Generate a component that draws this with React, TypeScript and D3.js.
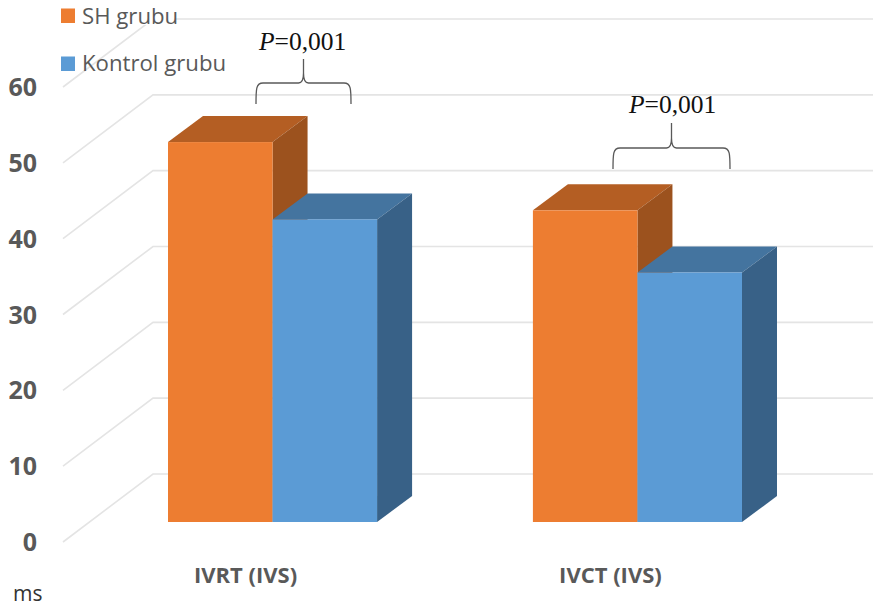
import React from "react";
import * as d3 from "d3";

const categories = ["IVRT (IVS)", "IVCT (IVS)"];
const seriesNames = ["SH grubu", "Kontrol grubu"];
const shValues = [50.1, 41.1];
const controlValues = [39.9, 32.9];
const yTicks = [0, 10, 20, 30, 40, 50, 60];
const pLabels = ["=0,001", "=0,001"];

const WIDTH = 873;
const HEIGHT = 612;
const SANS = "'Open Sans', sans-serif";

const palette = [
  { front: "#ED7D31", top: "#B45E23", side: "#9C521E" },
  { front: "#5B9BD5", top: "#44749F", side: "#386187" },
];

// Back wall of the 3D plot box; the floor recedes from the front edge to it.
const wallY = d3.scaleLinear().domain([0, 60]).range([474, 19]);
const frontEdge = { dx: -90, dy: 68 };
const barFrontShift = 48;
const barDepth = { dx: 35, dy: -26 };
const wallLeft = 153;

const x0 = d3.scaleBand<string>().domain(categories).range([168, 742]).paddingInner(0.427).paddingOuter(0);
const x1 = d3.scaleBand<string>().domain(seriesNames).range([0, x0.bandwidth()]);

function poly(points: [number, number][]) {
  return d3.line()(points) + "Z";
}

function Bar({ x, w, value, colors }: { x: number; w: number; value: number; colors: typeof palette[number] }) {
  const top = wallY(value) + barFrontShift;
  const base = wallY(0) + barFrontShift;
  const { dx, dy } = barDepth;
  return (
    <g>
      <path fill={colors.top} d={poly([[x, top], [x + w, top], [x + w + dx, top + dy], [x + dx, top + dy]])} />
      <path fill={colors.side} d={poly([[x + w, top], [x + w + dx, top + dy], [x + w + dx, base + dy], [x + w, base]])} />
      <rect x={x} y={top} width={w} height={base - top} fill={colors.front} />
    </g>
  );
}

// Curly brace opening downward, with a stem rising from its centre.
function Brace({ left, right, top, bottom, tip }: { left: number; right: number; top: number; bottom: number; tip: number }) {
  const mid = (left + right) / 2;
  const d = `M${left},${bottom} C${left},${top + 6} ${left},${top} ${left + 7},${top}
    L${mid - 5},${top} C${mid - 1},${top} ${mid},${top - 5} ${mid},${top - 10} L${mid},${tip}
    M${mid},${top - 10} C${mid},${top - 5} ${mid + 1},${top} ${mid + 5},${top}
    L${right - 7},${top} C${right},${top} ${right},${top + 6} ${right},${bottom}`;
  return <path d={d} fill="none" stroke="#595959" strokeWidth={1.3} />;
}

const braces = [
  { left: 256, right: 351, top: 83, bottom: 104, tip: 59, textX: 259, textY: 50 },
  { left: 613, right: 730, top: 148, bottom: 169, tip: 123, textX: 629, textY: 113 },
];

export default function App() {
  return (
    <svg
      width={WIDTH}
      height={HEIGHT}
      viewBox={`0 0 ${WIDTH} ${HEIGHT}`}
      style={{ position: "absolute", left: 0, top: 0, background: "#fff" }}
    >
      {/* gridlines: receding floor segment plus the run along the back wall */}
      <g fill="none" stroke="#E4E4E4" strokeWidth={1.6}>
        {yTicks.map((t) => (
          <path
            key={t}
            d={d3.line()([
              [wallLeft + frontEdge.dx, wallY(t) + frontEdge.dy],
              [wallLeft, wallY(t)],
              [WIDTH, wallY(t)],
            ]) as string}
          />
        ))}
      </g>

      {/* white patch behind the first legend entry, which sits on the top gridline */}
      <rect x={78} y={0} width={98} height={25} fill="#fff" />

      {yTicks.map((t) => (
        <text
          key={t}
          x={37}
          y={wallY(t) + frontEdge.dy + 9}
          textAnchor="end"
          fontFamily={SANS}
          fontWeight={700}
          fontSize={25}
          fill="#595959"
        >
          {t}
        </text>
      ))}

      {categories.map((c, i) => {
        const bx = x0(c) as number;
        const w = x1.bandwidth();
        return (
          <g key={c}>
            <Bar x={bx + (x1(seriesNames[0]) as number)} w={w} value={shValues[i]} colors={palette[0]} />
            <Bar x={bx + (x1(seriesNames[1]) as number)} w={w} value={controlValues[i]} colors={palette[1]} />
            <text
              x={bx + x0.bandwidth() / 2 - 27}
              y={583}
              textAnchor="middle"
              fontFamily={SANS}
              fontWeight={700}
              fontSize={22}
              fill="#595959"
            >
              {c}
            </text>
          </g>
        );
      })}

      {seriesNames.map((name, i) => (
        <g key={name}>
          <rect x={61} y={8.5 + i * 48} width={14} height={14.5} fill={palette[i].front} />
          <text x={82} y={23.5 + i * 47} fontFamily={SANS} fontSize={22.2} fill="#595959">
            {name}
          </text>
        </g>
      ))}

      {braces.map((b, i) => (
        <g key={i}>
          <Brace left={b.left} right={b.right} top={b.top} bottom={b.bottom} tip={b.tip} />
          <text x={b.textX} y={b.textY} fontFamily="'Liberation Serif', serif" fontSize={25.5} fill="#111">
            <tspan fontStyle="italic">P</tspan>
            {pLabels[i]}
          </text>
        </g>
      ))}

      <text x={13} y={601} fontFamily={SANS} fontSize={21} fill="#333">
        ms
      </text>
    </svg>
  );
}
